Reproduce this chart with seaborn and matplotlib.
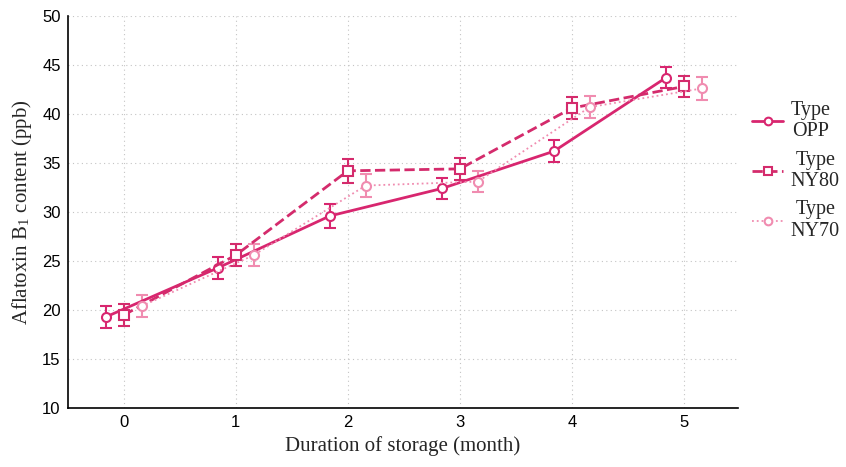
import matplotlib
matplotlib.use("Agg")
import matplotlib.pyplot as plt
import seaborn as sns
import pandas as pd
import numpy as np

months = [0, 1, 2, 3, 4, 5]
series = ["Type\nOPP", "Type\nNY80", "Type\nNY70"]
opp = [19.3, 24.3, 29.6, 32.4, 36.2, 43.7]
ny80 = [19.5, 25.6, 34.2, 34.4, 40.6, 42.8]
ny70 = [20.4, 25.6, 32.7, 33.1, 40.7, 42.6]
opp_err = [1.1, 1.1, 1.2, 1.1, 1.1, 1.1]
ny80_err = [1.1, 1.1, 1.2, 1.1, 1.1, 1.1]
ny70_err = [1.1, 1.1, 1.2, 1.1, 1.1, 1.2]

values = [opp, ny80, ny70]
errs = [opp_err, ny80_err, ny70_err]

sns.set_theme(style="white")
plt.rcParams['font.family'] = ['Liberation Sans', 'DejaVu Sans']
plt.rcParams['mathtext.fontset'] = 'stix'

fig = plt.figure(figsize=(8.46, 4.67), dpi=100)
ax = fig.add_axes([0.080, 0.126, 0.792, 0.840])

offsets = [-0.16, 0.0, 0.16]
colors = ["#d8266f", "#d42b6c", "#f08cb0"]
styles = ["-", "--", ":"]
markers = ["o", "s", "o"]
lws = [2.0, 2.0, 1.3]

rows = []
for name, vals, er, off in zip(series, values, errs, offsets):
    for m, v, e in zip(months, vals, er):
        rows.append({"series": name, "x": m + off, "y": v, "err": e})
df = pd.DataFrame(rows)

for i, name in enumerate(series):
    d = df[df["series"] == name]
    sns.lineplot(data=d, x="x", y="y", ax=ax, color=colors[i], linestyle=styles[i],
                 linewidth=lws[i], marker=markers[i], markersize=6.5,
                 markerfacecolor="white", markeredgecolor=colors[i], markeredgewidth=1.5,
                 label=name, zorder=3)
    ax.errorbar(d["x"], d["y"], yerr=d["err"], fmt="none", ecolor=colors[i],
                elinewidth=1.5, capsize=4, capthick=1.5, zorder=2)

ax.set_xlim(-0.5, 5.48)
ax.set_ylim(10, 50)
ax.set_xticks(months)
ax.set_yticks(np.arange(10, 51, 5))
ax.tick_params(axis="both", labelsize=12, length=3, width=1, colors="black", direction="inout")
ax.grid(True, linestyle=(0, (1, 3)), color="#c4c4c4", linewidth=0.8)
for s in ["top", "right"]:
    ax.spines[s].set_visible(False)
for s in ["left", "bottom"]:
    ax.spines[s].set_color("black")
    ax.spines[s].set_linewidth(1.2)

ax.set_xlabel("Duration of storage (month)", family=["Liberation Serif"], fontsize=15, labelpad=4)
ax.set_ylabel(r"Aflatoxin B$_{\mathregular{1}}$ content (ppb)", family=["Liberation Serif"], fontsize=15, labelpad=6)

leg = ax.legend(loc="upper left", bbox_to_anchor=(0.995, 0.83), frameon=False,
                prop={"family": "Liberation Serif", "size": 14.5}, handlelength=1.5,
                handletextpad=0.4, labelspacing=0.45, markerscale=0.85)
for t in leg.get_texts():
    t.set_multialignment("center")

fig.savefig("out.png", dpi=100)
